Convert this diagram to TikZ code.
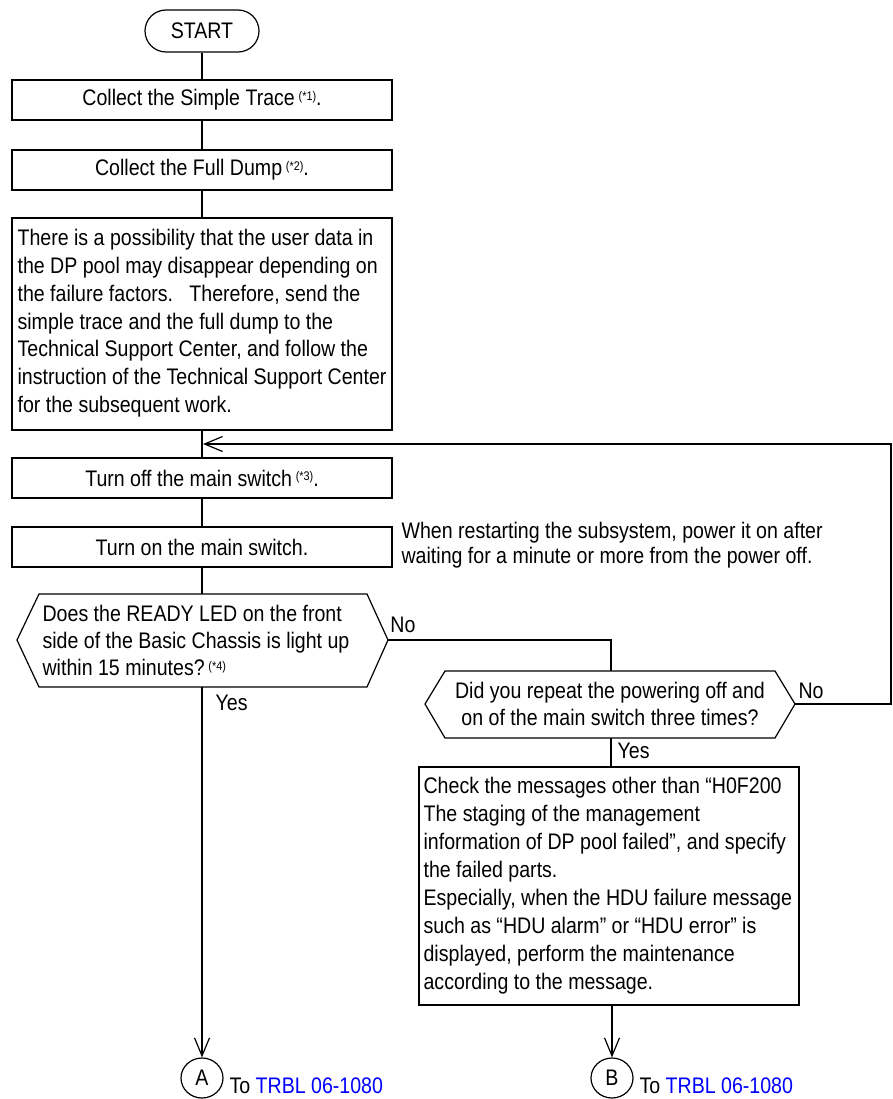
\documentclass[tikz,border=0pt]{standalone}
\usepackage{fontspec}
\setmainfont{Liberation Sans}[FakeStretch=0.87]
\usetikzlibrary{arrows.meta,shapes.geometric}
\definecolor{linkblue}{RGB}{0,0,255}
\newcommand\sups[1]{\,\raisebox{5.5pt}{\fontsize{12.5}{12.5}\selectfont #1}}
\begin{document}
\begin{tikzpicture}[x=1pt,y=-1pt,line width=1.2pt,
  font=\fontsize{22.5}{26}\selectfont,
  box/.style={draw, minimum width=380pt, minimum height=40pt, inner sep=0pt},
  txt/.style={inner sep=0pt},
  arr/.style={-{Straight Barb[length=18pt,width=15pt,line width=1.2pt]}}]
\useasboundingbox (0,0) rectangle (892,1099);

\node[draw, rounded corners=21pt, minimum width=114pt, minimum height=42pt, inner sep=0pt] (start) at (202,31) {START};
\node[box] (b1) at (202,100) {Collect the Simple Trace\sups{(*1)}.};
\node[box] (b2) at (202,170) {Collect the Full Dump\sups{(*2)}.};
\node[draw, minimum width=380pt, minimum height=212pt, inner sep=0pt] (b3) at (202,324) {};
\node[txt, anchor=north west, align=left, font=\fontsize{22.5}{27.7}\selectfont] (t3) at (17,229) {There is a possibility that the user data in\\
the DP pool may disappear depending on\\
the failure factors.\ \ \ Therefore, send the\\
simple trace and the full dump to the\\
Technical Support Center, and follow the\\
instruction of the Technical Support Center\\
for the subsequent work.};
\node[box] (b4) at (202,478) {Turn off the main switch\sups{(*3)}.};
\node[box] (b5) at (202,547) {Turn on the main switch.};
\node[txt, anchor=west, align=left, font=\fontsize{22.5}{25}\selectfont] (side) at (401,545) {When restarting the subsystem, power it on after\\
waiting for a minute or more from the power off.};

% decision 1
\coordinate (d1W) at (17,640);
\coordinate (d1NW) at (39,594);
\coordinate (d1N) at (202,594);
\coordinate (d1NE) at (367,594);
\coordinate (d1E) at (388,640);
\coordinate (d1SE) at (367,687);
\coordinate (d1S) at (202,687);
\coordinate (d1SW) at (39,687);
\draw (d1W) -- (d1NW) -- (d1NE) -- (d1E) -- (d1SE) -- (d1SW) -- cycle;
\node[txt, anchor=north west, align=left, font=\fontsize{22.5}{27}\selectfont] (t1) at (42,605) {Does the READY LED on the front\\
side of the Basic Chassis is light up\\
within 15 minutes?\sups{(*4)}};

% decision 2
\coordinate (d2W) at (425,704);
\coordinate (d2NW) at (445,671);
\coordinate (d2N) at (611,671);
\coordinate (d2NE) at (775,671);
\coordinate (d2E) at (795,704);
\coordinate (d2SE) at (775,738);
\coordinate (d2S) at (611,738);
\coordinate (d2SW) at (445,738);
\draw (d2W) -- (d2NW) -- (d2NE) -- (d2E) -- (d2SE) -- (d2SW) -- cycle;
\node[txt, align=center, font=\fontsize{22.5}{27}\selectfont] (t2) at (610,704) {Did you repeat the powering off and\\
on of the main switch three times?};

\node[draw, minimum width=380pt, minimum height=238pt, inner sep=0pt] (b6) at (609,886) {};
\node[txt, anchor=north west, align=left, font=\fontsize{22.5}{28}\selectfont] (t6) at (423,777) {Check the messages other than “H0F200\\
The staging of the management\\
information of DP pool failed”, and specify\\
the failed parts.\\
Especially, when the HDU failure message\\
such as “HDU alarm” or “HDU error” is\\
displayed, perform the maintenance\\
according to the message.};

% connectors
\draw (start) -- (b1);
\draw (b1) -- (b2);
\draw (b2) -- (b3);
\draw (b3) -- (b4);
\draw (b4) -- (b5);
\draw (b5) -- (d1N);
\draw (d1E) -- (d1E -| d2N) -- (d2N);
\draw (d2S) -- (d2S |- b6.north);

\coordinate (loopR) at (891,704);
\coordinate (loopT) at (891,444);
\coordinate (loopL) at (203,444);
\draw[arr] (d2E) -- (loopR) -- (loopT) -- (loopL);

% labels
\node[txt] (no1) at (403,625) {No};
\node[txt] (no2) at (811,691) {No};
\node[txt, anchor=west] (yes1) at (215,703) {Yes};
\node[txt, anchor=west] (yes2) at (617,751) {Yes};

% connectors to off-page
\node[draw, ellipse, minimum width=42pt, minimum height=40pt, inner sep=0pt] (cA) at (202,1078) {A};
\node[draw, ellipse, minimum width=42pt, minimum height=40pt, inner sep=0pt] (cB) at (612,1078) {B};
\draw[arr] (d1S) -- (cA);
\draw[arr] (b6.south -| cB) -- (cB);
\node[txt, anchor=west] (toA) at (229,1086) {To \textcolor{linkblue}{TRBL 06-1080}};
\node[txt, anchor=west] (toB) at (639,1086) {To \textcolor{linkblue}{TRBL 06-1080}};
\end{tikzpicture}
\end{document}
